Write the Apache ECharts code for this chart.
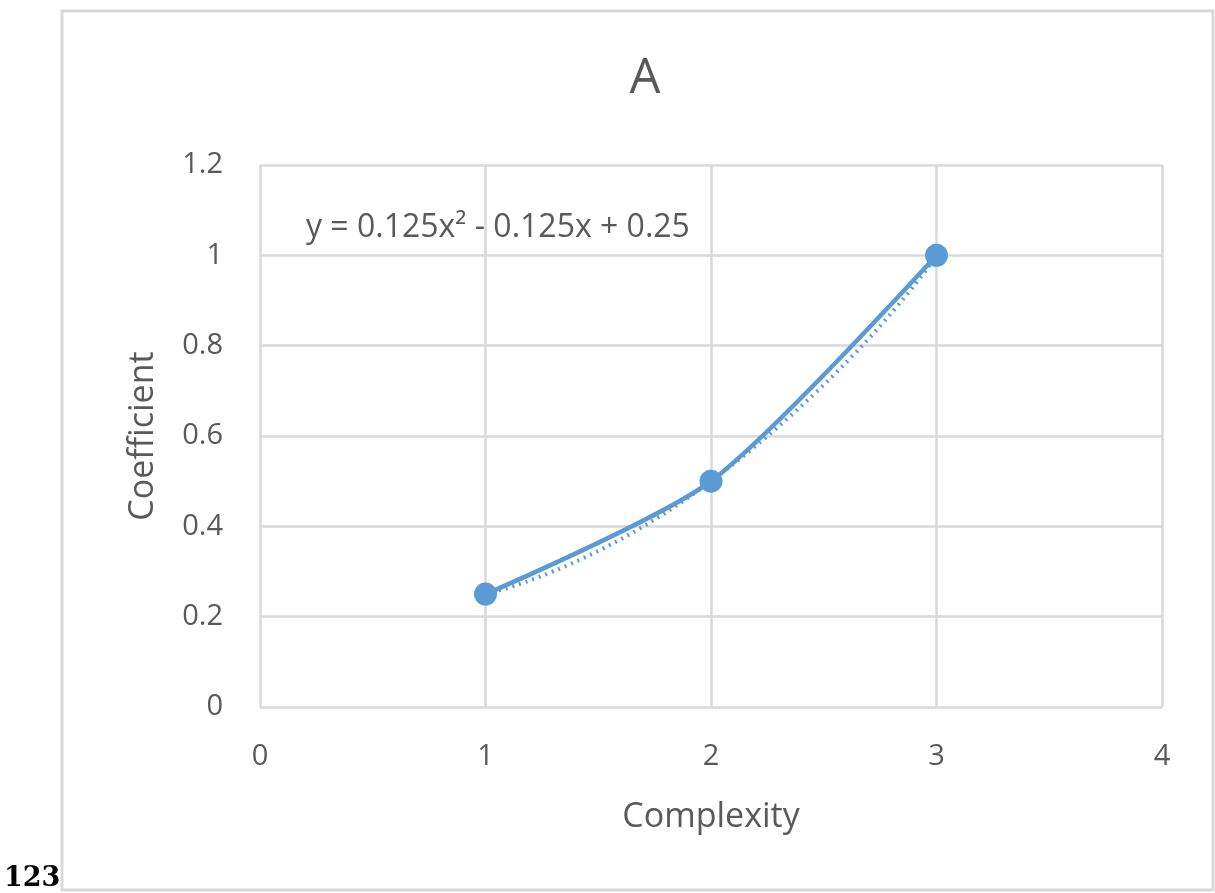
<!DOCTYPE html>
<html>
<head>
<meta charset="utf-8">
<title>A</title>
<script src="https://cdn.jsdelivr.net/npm/echarts@6/dist/echarts.min.js"></script>
<style>
  html, body { margin: 0; padding: 0; background: #fff; }
  #chart { width: 1215px; height: 893px; }
</style>
</head>
<body>
<div id="chart"></div>
<script>
// data
var complexity = [1, 2, 3];
var coefficient = [0.25, 0.5, 1];
var equationText = 'y = 0.125x\u00b2 - 0.125x + 0.25';

var blue = '#5b9bd5';
var txt = '#595959';
var gridc = '#d9d9d9';
var font = 'Open Sans';

var pts = complexity.map(function (x, i) { return [x, coefficient[i]]; });

var chart = echarts.init(document.getElementById('chart'));
chart.setOption({
  backgroundColor: '#fff',
  textStyle: { fontFamily: font },
  title: {
    text: 'A',
    left: 640, top: 50,
    textAlign: 'center',
    textStyle: { fontFamily: font, fontSize: 49, fontWeight: 'normal', color: txt }
  },
  grid: { left: 260, right: 53, top: 165, bottom: 186 },
  xAxis: {
    type: 'value', min: 0, max: 4, interval: 1,
    name: 'Complexity', nameLocation: 'middle', nameGap: 93,
    nameTextStyle: { fontSize: 34, color: txt },
    axisLine: { show: false },
    axisTick: { show: false },
    axisLabel: { fontSize: 29, color: txt, margin: 35 },
    splitLine: { show: true, lineStyle: { color: gridc, width: 2.5 } }
  },
  yAxis: {
    type: 'value', min: 0, max: 1.2, interval: 0.2,
    name: 'Coefficient', nameLocation: 'middle', nameGap: 100,
    nameTextStyle: { fontSize: 34, color: txt },
    axisLine: { show: false },
    axisTick: { show: false },
    axisLabel: { fontSize: 29, color: txt, margin: 37 },
    splitLine: { lineStyle: { color: gridc, width: 2.5 } }
  },
  graphic: [
    {
      type: 'rect', silent: true,
      shape: { x: 62, y: 11, width: 1151, height: 879 },
      style: { fill: null, stroke: gridc, lineWidth: 3 }
    },
    {
      type: 'text', x: 306, y: 228,
      style: { text: equationText, fontFamily: font, fontSize: 32, fill: txt, verticalAlign: 'middle' }
    },
    {
      type: 'text', left: 4, top: 865,
      style: { text: '123', fontFamily: 'DejaVu Serif', fontWeight: 'bold', fontSize: 27, fill: '#000' }
    }
  ],
  series: [
    {
      // trendline (poly 2), dotted
      type: 'line', data: pts, smooth: 0.6,
      symbol: 'none', silent: true,
      lineStyle: { color: blue, width: 4, type: [2, 5] },
      z: 1
    },
    {
      type: 'line', data: pts, smooth: 0.25,
      symbol: 'circle', symbolSize: 23,
      itemStyle: { color: blue },
      lineStyle: { color: blue, width: 4.5 },
      z: 2
    }
  ]
});
</script>
</body>
</html>
